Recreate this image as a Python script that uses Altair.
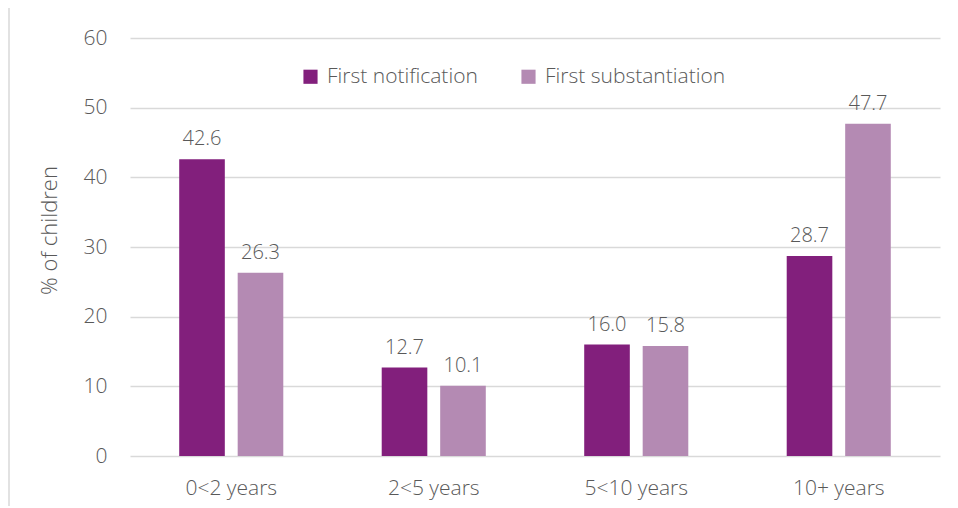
import altair as alt
import pandas as pd

categories = ["0<2 years", "2<5 years", "5<10 years", "10+ years"]
series = ["First notification", "First substantiation"]
notification = [42.6, 12.7, 16.0, 28.7]
substantiation = [26.3, 10.1, 15.8, 47.7]
colors = ["#821F7C", "#B48AB3"]

rows = []
for c, v in zip(categories, notification):
    rows.append({"age": c, "series": series[0], "value": v})
for c, v in zip(categories, substantiation):
    rows.append({"age": c, "series": series[1], "value": v})
df = pd.DataFrame(rows)

FONT = "Open Sans"
GREY = "#595959"
W = 300

x = alt.X("age:N", sort=categories, title=None,
          scale=alt.Scale(paddingInner=0.486, paddingOuter=0.243),
          axis=alt.Axis(labelAngle=0, labelPadding=21, ticks=False, domain=False, grid=False,
                        labelFont=FONT, labelFontSize=21, labelFontWeight=W, labelColor=GREY))
xo = alt.XOffset("series:N", sort=series,
                 scale=alt.Scale(paddingInner=0.22, paddingOuter=0))

base = alt.Chart(df)

bars = base.mark_bar().encode(
    x=x, xOffset=xo,
    y=alt.Y("value:Q", scale=alt.Scale(domain=[0, 60]),
            axis=alt.Axis(values=[0, 10, 20, 30, 40, 50, 60], ticks=False, domain=False,
                          labelPadding=23, labelFont=FONT, labelFontSize=21,
                          labelFontWeight=W, labelColor=GREY,
                          gridColor="#D9D9D9", gridWidth=1.5,
                          title="% of children", titleFont=FONT, titleFontSize=22,
                          titleFontWeight=W, titleColor=GREY,
                          titleX=-69, titleY=192, titleAngle=-90)),
    color=alt.Color("series:N", sort=series,
                    scale=alt.Scale(domain=series, range=colors),
                    legend=alt.Legend(title=None, orient="none", direction="horizontal",
                                      legendX=170, legendY=28, symbolType="square",
                                      symbolSize=200, symbolStrokeWidth=0,
                                      labelFont=FONT, labelFontSize=21, labelFontWeight=W,
                                      labelColor=GREY, labelLimit=400,
                                      columnPadding=40, labelOffset=6)),
)

labels = base.mark_text(baseline="bottom", dy=-10, font=FONT, fontSize=20,
                        fontWeight=W, color=GREY).encode(
    x=alt.X("age:N", sort=categories), xOffset=xo,
    y="value:Q",
    text=alt.Text("value:Q", format=".1f"),
)

border_left = alt.Chart(pd.DataFrame({"k": [0]})).mark_rule(color="#D9D9D9", strokeWidth=1.5).encode(
    x=alt.value(-121), y=alt.value(-31), y2=alt.value(468))
border_top = alt.Chart(pd.DataFrame({"k": [0]})).mark_rule(color="#D9D9D9", strokeWidth=1.5).encode(
    x=alt.value(-121), x2=alt.value(822), y=alt.value(-31))

chart = alt.layer(bars, labels, border_left, border_top).properties(
    width=810, height=418,
    view=alt.ViewBackground(stroke="transparent", strokeWidth=0),
    autosize=alt.AutoSizeParams(type="none"),
    padding={"left": 122, "top": 30, "right": 10, "bottom": 50},
).configure_view(stroke="transparent", strokeWidth=0).configure(background="white")

chart.save("out.html", embed_options={"renderer": "svg", "actions": False})
